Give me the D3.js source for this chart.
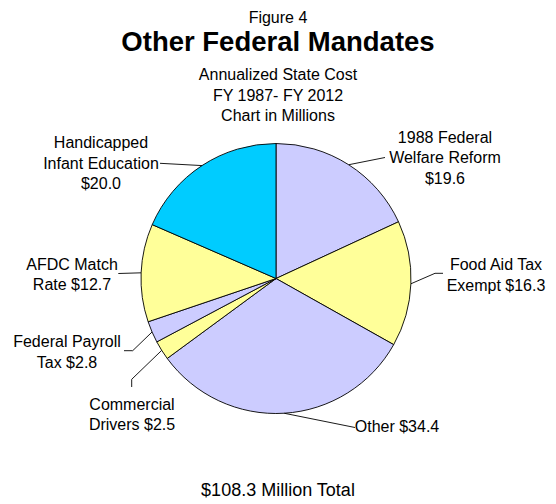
<!DOCTYPE html>
<html>
<head>
<meta charset="utf-8">
<script src="https://cdn.jsdelivr.net/npm/d3@7"></script>
<style>
  body { margin: 0; background: #fff; }
  text { font-family: "Liberation Sans", Arial, sans-serif; fill: #000; }
</style>
</head>
<body>
<svg id="chart" width="556" height="504"></svg>
<script>
// Slices, clockwise from 12 o'clock
const categories = [
  "1988 Federal Welfare Reform",
  "Food Aid Tax Exempt",
  "Other",
  "Commercial Drivers",
  "Federal Payroll Tax",
  "AFDC Match Rate",
  "Handicapped Infant Education"
];
const values = [19.6, 16.3, 34.4, 2.5, 2.8, 12.7, 20.0];
// Label text per slice; {v} is replaced by the formatted value
const labelTemplates = [
  ["1988 Federal", "Welfare Reform", "{v}"],
  ["Food Aid Tax", "Exempt {v}"],
  ["Other {v}"],
  ["Commercial", "Drivers {v}"],
  ["Federal Payroll", "Tax {v}"],
  ["AFDC Match", "Rate {v}"],
  ["Handicapped", "Infant Education", "{v}"]
];
const sliceColors = ["#CCCCFF", "#FFFF99", "#CCCCFF", "#FFFF99", "#CCCCFF", "#FFFF99", "#00CCFF"];
const titleLines = ["Figure 4", "Other Federal Mandates"];
const subtitleLines = ["Annualized State Cost", "FY 1987- FY 2012", "Chart in Millions"];
const totalLabel = "$" + d3.format(".1f")(d3.sum(values)) + " Million Total";

// Layout
const W = 556, H = 504;
const cx = 276, cy = 278.5, R = 135;
const lineH = 20.5;
// label block: text centre x, first baseline y, and leader path after the slice edge
const labelLayout = [
  { x: 445, y: 142.5, path: [[385, 157.5]] },
  { x: 496, y: 270,   path: [[435, 273.3], [443, 273.3]] },
  { x: 397, y: 432,   path: [[355, 427.5]] },
  { x: 132, y: 409.5, path: [[131.7, 379.3], [131.7, 387]] },
  { x: 67,  y: 347,   path: [[132.7, 350.7], [124, 350.7]] },
  { x: 72,  y: 269.5, path: [[118.3, 273.5]] },
  { x: 101, y: 148,   path: [[160, 163.3]] }
];

const svg = d3.select("#chart");
const fmt = v => "$" + d3.format(".1f")(v);

// Titles
svg.append("text").attr("x", W / 2).attr("y", 23).attr("text-anchor", "middle")
  .style("font-size", "16px").text(titleLines[0]);
svg.append("text").attr("x", W / 2).attr("y", 51).attr("text-anchor", "middle")
  .style("font-size", "27.5px").style("font-weight", "bold").text(titleLines[1]);
subtitleLines.forEach((t, i) => {
  svg.append("text").attr("x", W / 2).attr("y", 80 + i * lineH).attr("text-anchor", "middle")
    .style("font-size", "16px").text(t);
});

// Pie
const data = categories.map((c, i) => ({ name: c, value: values[i], i }));
const pie = d3.pie().value(d => d.value).sort(null);
const arcs = pie(data);
const arc = d3.arc().innerRadius(0).outerRadius(R);

const g = svg.append("g").attr("transform", `translate(${cx},${cy})`);
g.selectAll("path.slice").data(arcs).join("path")
  .attr("class", "slice")
  .attr("d", arc)
  .attr("fill", d => sliceColors[d.data.i])
  .attr("stroke", "#000")
  .attr("stroke-width", 0.9)
  .attr("stroke-linejoin", "round");

// Leader lines from slice edge at mid angle
const line = d3.line();
arcs.forEach(a => {
  const mid = (a.startAngle + a.endAngle) / 2;
  const edge = [cx + R * Math.sin(mid), cy - R * Math.cos(mid)];
  const pts = [edge].concat(labelLayout[a.data.i].path);
  svg.append("path").attr("d", line(pts))
    .attr("fill", "none").attr("stroke", "#000").attr("stroke-width", 0.9);
});

// Labels
arcs.forEach(a => {
  const L = labelLayout[a.data.i];
  const lines = labelTemplates[a.data.i].map(s => s.replace("{v}", fmt(a.data.value)));
  const t = svg.append("text").attr("text-anchor", "middle").style("font-size", "16px");
  lines.forEach((s, k) => {
    t.append("tspan").attr("x", L.x).attr("y", L.y + k * lineH).text(s);
  });
});

// Total
svg.append("text").attr("x", 278).attr("y", 496).attr("text-anchor", "middle")
  .style("font-size", "18px").text(totalLabel);
</script>
</body>
</html>
